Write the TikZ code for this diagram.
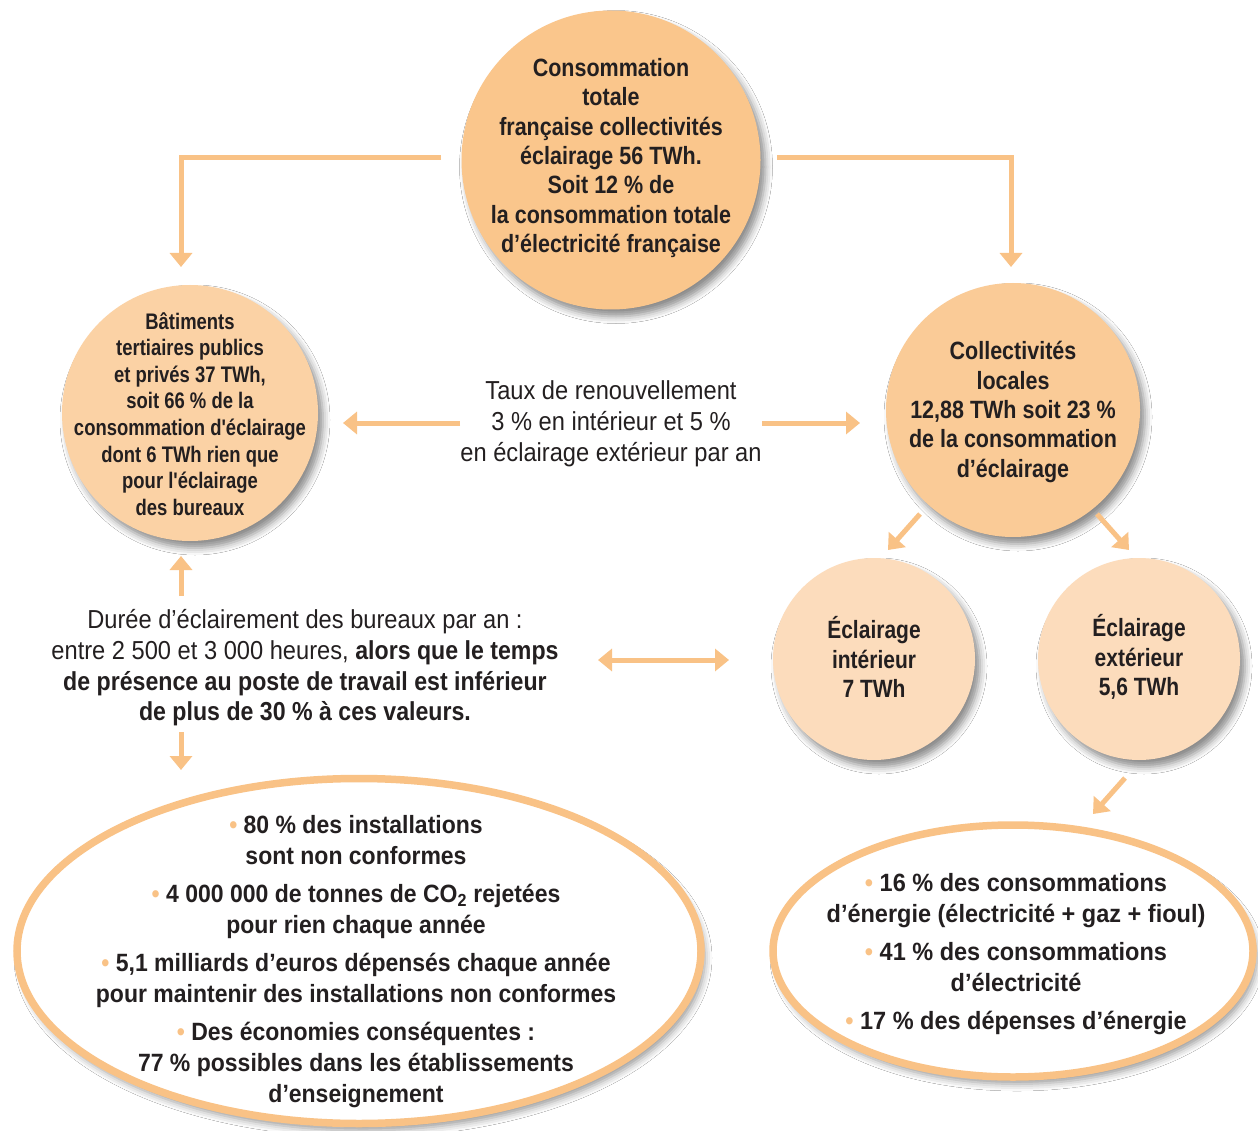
\documentclass[tikz,border=0pt]{standalone}
\usepackage{fontspec}
\setmainfont{Liberation Sans}[FakeStretch=0.91, BoldFeatures={FakeStretch=0.86}]
\newfontfamily\fbat{Liberation Sans}[FakeStretch=0.82]
\newfontfamily\fsmall{Liberation Sans}[FakeStretch=0.84]
\newfontfamily\fdur{Liberation Sans}[FakeStretch=0.89]
\newfontfamily\fbot{Liberation Sans}[FakeStretch=0.92]
\newfontfamily\fbotr{Liberation Sans}[FakeStretch=0.94]
\usetikzlibrary{arrows.meta,shapes.geometric,shadows.blur}
\definecolor{peachA}{HTML}{FAC68C}
\definecolor{peachB}{HTML}{FBD2A5}
\definecolor{peachC}{HTML}{FACB97}
\definecolor{peachD}{HTML}{FCDCBC}
\definecolor{arrowc}{HTML}{F9C286}
\definecolor{txt}{HTML}{231F20}
\newcommand{\bul}{{\color{arrowc}\textbullet}\ }
\begin{document}
\begin{tikzpicture}[x=1pt,y=-1pt,
  bubble/.style={circle,inner sep=0pt,outer sep=0pt,
    blur shadow={shadow xshift=5pt,shadow yshift=-7pt,shadow blur radius=7pt,shadow opacity=45}},
  oval/.style={ellipse,draw=arrowc,line width=7.5pt,fill=white,inner sep=0pt,
    blur shadow={shadow xshift=4pt,shadow yshift=-7pt,shadow blur radius=7pt,shadow opacity=40}},
  label/.style={align=center,text=txt,inner sep=0pt},
  btext/.style={label,font=\bfseries\fontsize{25}{29.3}\selectfont},
  arr/.style={draw=arrowc,line width=5pt,-{Triangle[width=22pt,length=14pt]}},
  darr/.style={draw=arrowc,line width=5pt,{Triangle[width=22pt,length=14pt]}-{Triangle[width=22pt,length=14pt]}}]
\useasboundingbox (0,0) rectangle (1258,1131);
\fill[white] (0,0) rectangle (1258,1131);

% circles
\node[bubble,fill=peachA,minimum size=299pt] (top) at (611,160) {};
\node[bubble,fill=peachB,minimum size=256pt] (bat) at (190,413) {};
\node[bubble,fill=peachC,minimum size=254pt] (col) at (1013,410) {};
\node[bubble,fill=peachD,minimum size=202pt] (int) at (874,659) {};
\node[bubble,fill=peachD,minimum size=202pt] (ext) at (1139,659) {};

\node[btext] (toptxt) at (top) [yshift=2pt] {Consommation\\totale\\française collectivités\\éclairage 56 TWh.\\Soit 12 \% de\\la consommation totale\\d’électricité française};
\node[label,font=\fbat\bfseries\fontsize{22.5}{26.6}\selectfont] (battxt) at (bat) [yshift=-1pt] {Bâtiments\\tertiaires publics\\et privés 37 TWh,\\soit 66 \% de la\\consommation d'éclairage\\dont 6 TWh rien que\\pour l'éclairage\\des bureaux};
\node[btext] (coltxt) at (col) [yshift=-2pt] {Collectivités\\locales\\12,88 TWh soit 23 \%\\de la consommation\\d’éclairage};
\node[btext,font=\fsmall\bfseries\fontsize{25}{29.5}\selectfont] (inttxt) at (int) [yshift=2pt] {Éclairage\\intérieur\\7 TWh};
\node[btext,font=\fsmall\bfseries\fontsize{25}{29.5}\selectfont] (exttxt) at (ext) [yshift=2pt] {Éclairage\\extérieur\\5,6 TWh};

% ovals
\node[oval,minimum width=684pt,minimum height=345pt] (ovl) at (359,951) {};
\node[oval,minimum width=480pt,minimum height=252pt] (ovr) at (1013,951) {};

% texts
\node[label,font=\fontsize{26}{31}\selectfont] (taux) at (611,424) {Taux de renouvellement\\3 \% en intérieur et 5 \%\\en éclairage extérieur par an};
\node[label,font=\fontsize{26}{30.7}\selectfont] (duree) at (305,668) {Durée d’éclairement des bureaux par an :\\entre 2 500 et 3 000 heures, {\fdur\bfseries alors que le temps}\\{\fdur\bfseries de présence au poste de travail est inférieur}\\{\fdur\bfseries de plus de 30 \% à ces valeurs.}};
\node[label,font=\fbot\bfseries\fontsize{25}{31}\selectfont] (ltxt) at (356,962) {\bul 80 \% des installations\\sont non conformes\\[7pt]
\bul 4 000 000 de tonnes de CO\textsubscript{2} rejetées\\pour rien chaque année\\[7pt]
\bul 5,1 milliards d’euros dépensés chaque année\\pour maintenir des installations non conformes\\[7pt]
\bul Des économies conséquentes :\\77 \% possibles dans les établissements\\d’enseignement};
\node[label,font=\fbotr\bfseries\fontsize{25}{31}\selectfont] (rtxt) at (1016,954) {\bul 16 \% des consommations\\d’énergie (électricité + gaz + fioul)\\[7pt]
\bul 41 \% des consommations\\d’électricité\\[7pt]
\bul 17 \% des dépenses d’énergie};

% arrow endpoints
\coordinate (a1s) at (441,158); \coordinate (a1e) at (181,267);
\coordinate (a2s) at (777,158); \coordinate (a2e) at (1011,267);
\coordinate (a3s) at (460,423); \coordinate (a3e) at (343,423);
\coordinate (a4s) at (762,423); \coordinate (a4e) at (860,423);
\coordinate (a5s) at (920,514); \coordinate (a5e) at (888,550);
\coordinate (a6s) at (1097,514); \coordinate (a6e) at (1129,550);
\coordinate (a7s) at (181,596); \coordinate (a7e) at (181,556);
\coordinate (a8s) at (181,732); \coordinate (a8e) at (181,770);
\coordinate (a9s) at (598,660); \coordinate (a9e) at (729,660);
\coordinate (a10s) at (1125,778); \coordinate (a10e) at (1093,814);

\draw[arr] (a1s) -| (a1e);
\draw[arr] (a2s) -| (a2e);
\draw[arr] (a3s) -- (a3e);
\draw[arr] (a4s) -- (a4e);
\draw[arr] (a5s) -- (a5e);
\draw[arr] (a6s) -- (a6e);
\draw[arr] (a7s) -- (a7e);
\draw[arr] (a8s) -- (a8e);
\draw[darr] (a9s) -- (a9e);
\draw[arr] (a10s) -- (a10e);
\end{tikzpicture}
\end{document}
